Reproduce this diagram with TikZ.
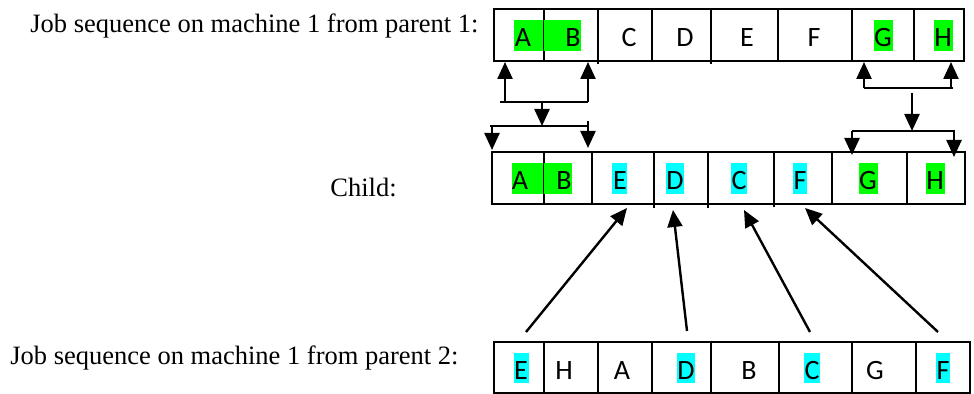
\documentclass[tikz,border=0pt]{standalone}
\usepackage{fontspec}
\setmainfont{Liberation Serif}
\newfontfamily\calfont{Carlito}
\usetikzlibrary{arrows.meta,fit}
\definecolor{hlgreen}{HTML}{00FF00}
\definecolor{hlcyan}{HTML}{00FFFF}
\begin{document}
\begin{tikzpicture}[x=0.5pt,y=-0.5pt,
  cellbox/.style={draw, line width=1.1pt, inner sep=0pt},
  lett/.style={font=\calfont\fontsize{14}{16}\selectfont, inner sep=0pt, anchor=base},
  lab/.style={font=\fontsize{13.25}{15}\selectfont, inner sep=0pt, anchor=base west},
  ln/.style={line width=1.2pt},
  arr/.style={line width=1.2pt, -{Triangle[length=8.5pt,width=7.5pt]}},
  hg/.style={fill=hlgreen},
  hc/.style={fill=hlcyan}]
\useasboundingbox (0,0) rectangle (974,394);

% labels
\node[lab] (t1) at (30,33) {Job sequence on machine 1 from parent 1:};
\node[lab] (t2) at (330,197) {Child:};
\node[lab] (t3) at (10,365) {Job sequence on machine 1 from parent 2:};

% ---------- parent 1 ----------
\node[cellbox, fit={(494,9)(544,61)}] (p1c1) {};
\node[cellbox, fit={(544,9)(598,61)}] (p1c2) {};
\node[cellbox, fit={(598,9)(652,61)}] (p1c3) {};
\node[cellbox, fit={(652,9)(711,61)}] (p1c4) {};
\node[cellbox, fit={(711,9)(778,61)}] (p1c5) {};
\node[cellbox, fit={(778,9)(852,61)}] (p1c6) {};
\node[cellbox, fit={(852,9)(914,61)}] (p1c7) {};
\node[cellbox, fit={(914,9)(964,61)}] (p1c8) {};
\draw[ln] (598,61) -- (598,64);
\draw[ln] (711,61) -- (711,64);
\fill[hg] (514,20) rectangle (543,51);
\fill[hg] (544,20) rectangle (581,51);
\fill[hg] (874,20) rectangle (893,51);
\fill[hg] (934,20) rectangle (953,51);
\node[lett] (p1a) at (523,47) {A};
\node[lett] (p1b) at (573,47) {B};
\node[lett] (p1cc) at (629,47) {C};
\node[lett] (p1d) at (685,47) {D};
\node[lett] (p1e) at (747,47) {E};
\node[lett] (p1f) at (814,47) {F};
\node[lett] (p1g) at (883,47) {G};
\node[lett] (p1h) at (943,47) {H};

% ---------- child ----------
\node[cellbox, fit={(492,152)(544,204)}] (chc1) {};
\node[cellbox, fit={(544,152)(592,204)}] (chc2) {};
\node[cellbox, fit={(592,152)(654,204)}] (chc3) {};
\node[cellbox, fit={(654,152)(708,204)}] (chc4) {};
\node[cellbox, fit={(708,152)(774,204)}] (chc5) {};
\node[cellbox, fit={(774,152)(832,204)}] (chc6) {};
\node[cellbox, fit={(832,152)(907,204)}] (chc7) {};
\node[cellbox, fit={(907,152)(965,204)}] (chc8) {};
\draw[ln] (654,204) -- (654,208);
\draw[ln] (708,204) -- (708,208);
\draw[ln] (774,204) -- (774,207);
\fill[hg] (512,163) rectangle (543,194);
\fill[hg] (544,163) rectangle (572,194);
\fill[hc] (612,163) rectangle (627,194);
\fill[hc] (666,163) rectangle (684,194);
\fill[hc] (731,163) rectangle (747,194);
\fill[hc] (793,163) rectangle (807,194);
\fill[hg] (859,163) rectangle (878,194);
\fill[hg] (926,163) rectangle (945,194);
\node[lett] (cha) at (520,190) {A};
\node[lett] (chb) at (564,190) {B};
\node[lett] (che) at (620,190) {E};
\node[lett] (chd) at (675,190) {D};
\node[lett] (chcc) at (739,190) {C};
\node[lett] (chf) at (800,190) {F};
\node[lett] (chg) at (868,190) {G};
\node[lett] (chh) at (935,190) {H};

% ---------- parent 2 ----------
\node[cellbox, fit={(494,342)(544,393)}] (p2c1) {};
\node[cellbox, fit={(544,342)(598,393)}] (p2c2) {};
\node[cellbox, fit={(598,342)(652,393)}] (p2c3) {};
\node[cellbox, fit={(652,342)(711,393)}] (p2c4) {};
\node[cellbox, fit={(711,342)(779,393)}] (p2c5) {};
\node[cellbox, fit={(779,342)(852,393)}] (p2c6) {};
\node[cellbox, fit={(852,342)(916,393)}] (p2c7) {};
\node[cellbox, fit={(916,342)(970,393)}] (p2c8) {};
\fill[hc] (514,353) rectangle (529,383);
\fill[hc] (677,353) rectangle (695,383);
\fill[hc] (804,353) rectangle (820,383);
\fill[hc] (936,353) rectangle (950,383);
\node[lett] (p2e) at (521,380) {E};
\node[lett] (p2h) at (564,380) {H};
\node[lett] (p2a) at (622,380) {A};
\node[lett] (p2d) at (686,380) {D};
\node[lett] (p2b) at (749,380) {B};
\node[lett] (p2cc) at (812,380) {C};
\node[lett] (p2g) at (875,380) {G};
\node[lett] (p2f) at (943,380) {F};

% ---------- left bracket ----------
\coordinate (la1) at (505,102);  \coordinate (lt1) at (505,62);
\coordinate (la2) at (588,102);  \coordinate (lt2) at (588,62);
\coordinate (lh1) at (500,102);
\coordinate (lm1) at (542,102);  \coordinate (lm2) at (542,126);
\coordinate (lh2) at (490,126);  \coordinate (lh3) at (588,126);
\coordinate (ld1) at (492,126);  \coordinate (ldt1) at (492,150);
\coordinate (ld2) at (588,121);  \coordinate (ldt2) at (588,148);
\draw[arr] (la1) -- (lt1);
\draw[arr] (la2) -- (lt2);
\draw[ln] (lh1) -- (la2);
\draw[arr] (lm1) -- (lm2);
\draw[ln] (lh2) -- (lh3);
\draw[arr] (ld1) -- (ldt1);
\draw[arr] (ld2) -- (ldt2);

% ---------- right bracket ----------
\coordinate (ra1) at (864,88);  \coordinate (rt1) at (864,62);
\coordinate (ra2) at (951,88);  \coordinate (rt2) at (951,62);
\coordinate (rh1) at (953,88);
\coordinate (rm1) at (912,93);  \coordinate (rm2) at (912,131);
\coordinate (rh2) at (852,131); \coordinate (rh3) at (955,131);
\coordinate (rd2) at (954,131); \coordinate (rdt1) at (852,155);
\coordinate (rdt2) at (954,157);
\draw[arr] (ra1) -- (rt1);
\draw[arr] (ra2) -- (rt2);
\draw[ln] (ra1) -- (rh1);
\draw[arr] (rm1) -- (rm2);
\draw[ln] (rh2) -- (rh3);
\draw[arr] (rh2) -- (rdt1);
\draw[arr] (rd2) -- (rdt2);

% ---------- parent 2 -> child ----------
\coordinate (ae1) at (526,332); \coordinate (ae2) at (627,208);
\coordinate (ad1) at (687,331); \coordinate (ad2) at (673,210);
\coordinate (ac1) at (810,332); \coordinate (ac2) at (744,210);
\coordinate (af1) at (938,332); \coordinate (af2) at (805,208);
\draw[arr] (ae1) -- (ae2);
\draw[arr] (ad1) -- (ad2);
\draw[arr] (ac1) -- (ac2);
\draw[arr] (af1) -- (af2);
\end{tikzpicture}
\end{document}
